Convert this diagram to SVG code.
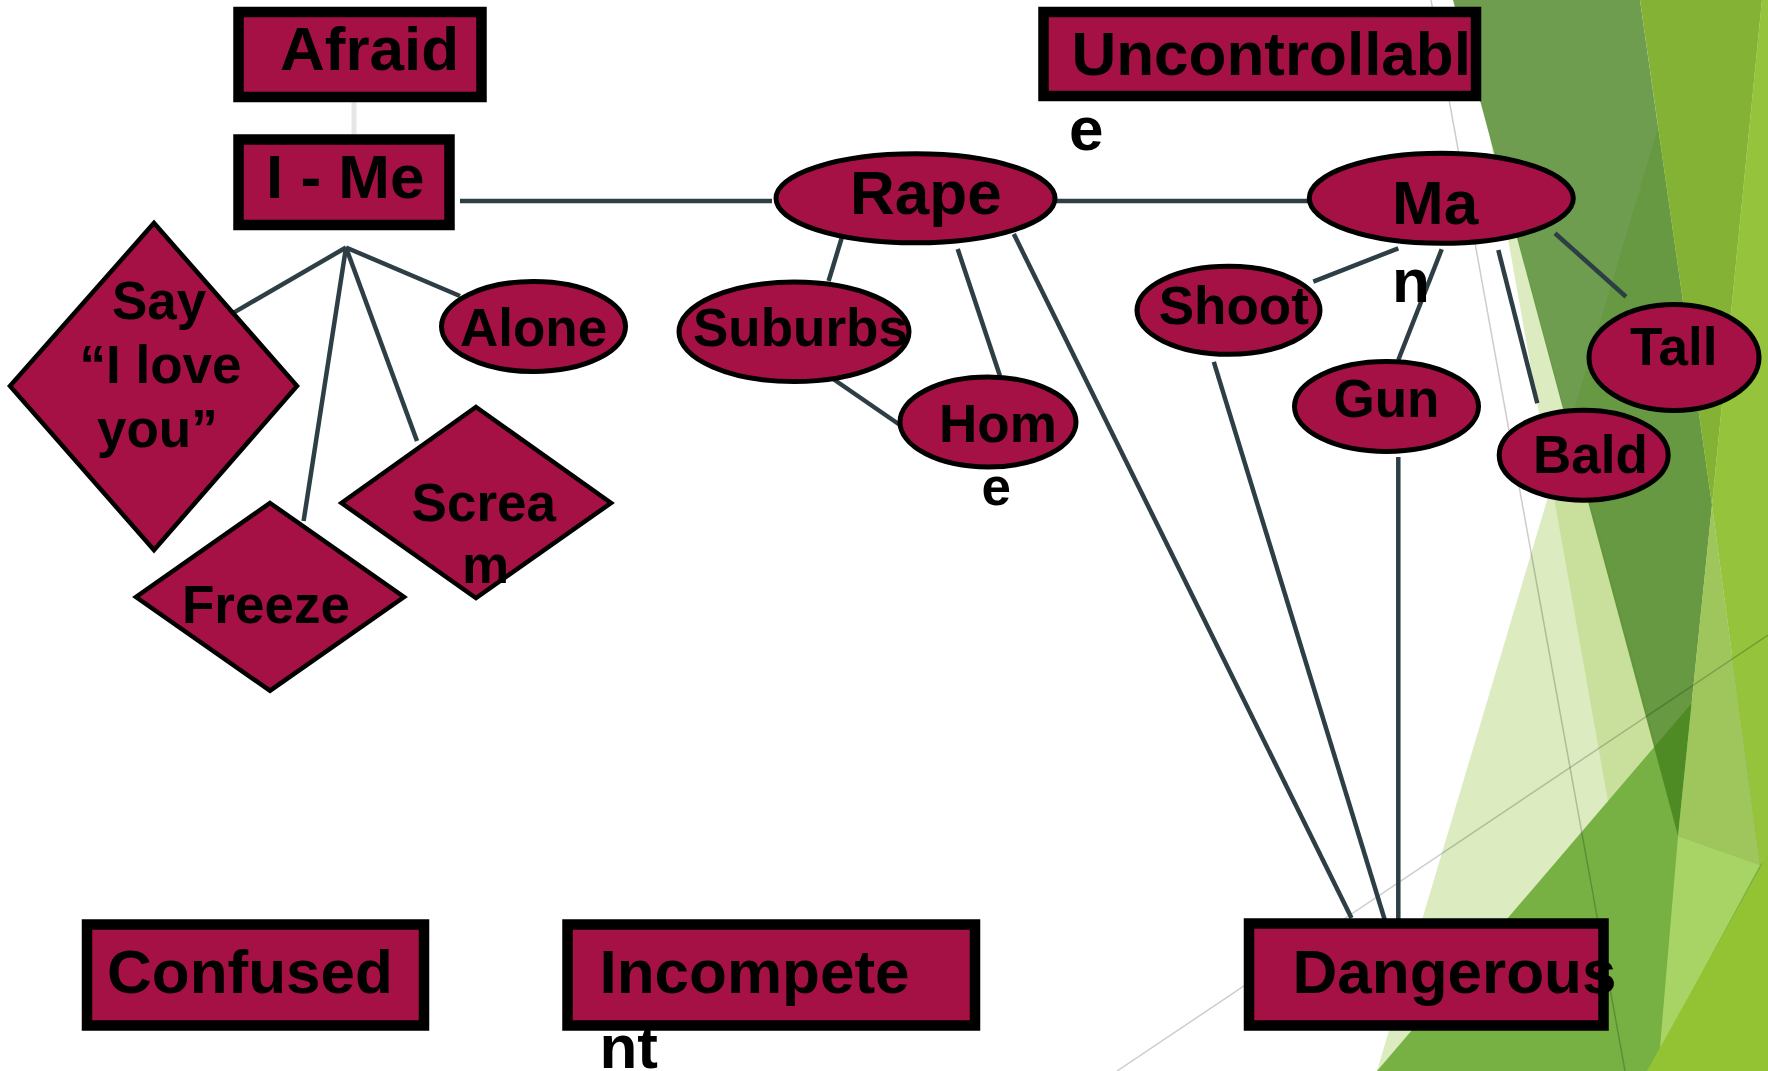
<svg xmlns="http://www.w3.org/2000/svg" width="1768" height="1071" viewBox="0 0 1768 1071">
<style>
.box{fill:#a61145;stroke:#000;stroke-width:10.5}
.ell{fill:#a61145;stroke:#000;stroke-width:5}
.dia{fill:#a61145;stroke:#000;stroke-width:4.5}
.t{font-family:"Liberation Sans",Arial,Helvetica,sans-serif;font-weight:bold;fill:#000}
.big{font-size:62px}
.sm{font-size:53px}
.c{stroke:#2d3e45;stroke-width:4.5;fill:none}
.g{stroke:#000;stroke-opacity:0.2;stroke-width:1.5;fill:none}
.pale{fill:#b1d373;fill-opacity:0.45}
</style>
<rect width="1768" height="1071" fill="#fff"/>
<g id="background">
  <polygon class="pale" points="1696,0 1768,0 1768,1071 1377,1071"/>
  <polygon class="pale" points="1489,132 1745,1071 1656,1071"/>
  <polygon fill="#77b144" points="1377,1071 1768,614 1768,1071"/>
  <polygon fill="#447f1b" fill-opacity="0.77" points="1453,0 1640,0 1712,505 1678,836"/>
  <polygon fill="#84b234" points="1640,0 1762,0 1712,505"/>
  <polygon fill="#95c33c" points="1762,0 1768,0 1768,858 1760,865 1712,505"/>
  <polygon fill="#9fc65c" points="1712,505 1760,865 1678,836"/>
  <polygon fill="#a8d466" points="1678,836 1760,865 1649,1071 1658,1071"/>
  <polygon fill="#93c332" points="1768,854 1768,1071 1647,1071"/>
  <line class="g" x1="1431" y1="0" x2="1625" y2="1071"/>
  <line class="g" x1="1117" y1="1071" x2="1768" y2="635"/>
</g>
<g id="connectors">
  <line x1="354" y1="102" x2="354" y2="134" stroke="#e6e6e6" stroke-width="5"/>
  <line class="c" x1="460" y1="201" x2="772" y2="201"/>
  <line class="c" x1="346" y1="247.5" x2="232" y2="313.6"/>
  <line class="c" x1="346" y1="247.5" x2="303.6" y2="521"/>
  <line class="c" x1="346" y1="247.5" x2="417" y2="441"/>
  <line class="c" x1="346" y1="247.5" x2="460" y2="296"/>
  <line class="c" x1="1057" y1="201" x2="1309" y2="201"/>
  <line class="c" x1="842.9" y1="234" x2="828.6" y2="281"/>
  <line class="c" x1="957.7" y1="249" x2="1000" y2="376"/>
  <line class="c" x1="831" y1="377.5" x2="900" y2="425"/>
  <line class="c" x1="1013.8" y1="234" x2="1351.5" y2="918"/>
  <line class="c" x1="1213.8" y1="361.8" x2="1384.8" y2="920"/>
  <line class="c" x1="1398.3" y1="457" x2="1398.3" y2="920"/>
  <line class="c" x1="1398.3" y1="248.3" x2="1313.3" y2="281.7"/>
  <line class="c" x1="1441.7" y1="249.3" x2="1398.3" y2="360"/>
  <line class="c" x1="1498.3" y1="250" x2="1537.3" y2="403.3" stroke-width="5.5"/>
  <line class="c" x1="1555" y1="233.3" x2="1626" y2="296.7"/>
</g>
<g id="node-afraid">
  <rect class="box" x="238.5" y="12" width="243" height="85"/>
  <text class="t big" x="280" y="70">Afraid</text>
</g>
<g id="node-ime">
  <rect class="box" x="238.5" y="139.5" width="211" height="85.5"/>
  <text class="t big" x="266" y="197.5">I - Me</text>
</g>
<g id="node-uncontrollable">
  <rect class="box" x="1043.5" y="12" width="432.5" height="84"/>
  <text class="t big" x="1071.4" y="75">Uncontrollabl</text>
  <text class="t big" x="1069" y="150">e</text>
</g>
<g id="node-confused">
  <rect class="box" x="87" y="924.5" width="337" height="101"/>
  <text class="t big" x="107" y="993">Confused</text>
</g>
<g id="node-incompetent">
  <rect class="box" x="567.5" y="924.5" width="407.5" height="101"/>
  <text class="t big" x="599.5" y="993">Incompete</text>
  <text class="t big" x="599.5" y="1068">nt</text>
</g>
<g id="node-dangerous">
  <rect class="box" x="1249" y="923.5" width="354.5" height="102"/>
  <text class="t big" x="1292.6" y="993">Dangerous</text>
</g>
<g id="node-say">
  <polygon class="dia" points="154,223 297,386 154,550 10,386"/>
  <text class="t sm" x="112" y="319">Say</text>
  <text class="t sm" x="79.5" y="383">“I love</text>
  <text class="t sm" x="97" y="447">you”</text>
</g>
<g id="node-scream">
  <polygon class="dia" points="476,407 611,503 476,598 341.5,503"/>
  <text class="t sm" x="411.6" y="521">Screa</text>
  <text class="t sm" x="462" y="583">m</text>
</g>
<g id="node-freeze">
  <polygon class="dia" points="270,503 404,597 270,690.7 136,597"/>
  <text class="t sm" x="182" y="622.7">Freeze</text>
</g>
<g id="node-alone">
  <ellipse class="ell" cx="533.5" cy="326.5" rx="92" ry="45"/>
  <text class="t sm" x="460" y="345.7">Alone</text>
</g>
<g id="node-rape">
  <ellipse class="ell" cx="915.5" cy="198.3" rx="139.5" ry="44.5"/>
  <text class="t big" x="850" y="214">Rape</text>
</g>
<g id="node-suburbs">
  <ellipse class="ell" cx="794" cy="331.8" rx="115" ry="49.7"/>
  <text class="t sm" x="693" y="345.7">Suburbs</text>
</g>
<g id="node-home">
  <ellipse class="ell" cx="988" cy="422" rx="88" ry="45"/>
  <text class="t sm" x="939" y="442">Hom</text>
  <text class="t sm" x="981.6" y="505">e</text>
</g>
<g id="node-man">
  <ellipse class="ell" cx="1441.3" cy="198.3" rx="132" ry="45"/>
  <text class="t big" x="1392" y="224">Ma</text>
  <text class="t big" x="1392" y="302">n</text>
</g>
<g id="node-shoot">
  <ellipse class="ell" cx="1228.5" cy="310.3" rx="91.5" ry="44"/>
  <text class="t sm" x="1158.7" y="324">Shoot</text>
</g>
<g id="node-gun">
  <ellipse class="ell" cx="1386.5" cy="406.5" rx="92" ry="45"/>
  <text class="t sm" x="1333.5" y="416.5">Gun</text>
</g>
<g id="node-tall">
  <ellipse class="ell" cx="1674" cy="357.5" rx="85" ry="53"/>
  <text class="t sm" x="1630" y="365.4">Tall</text>
</g>
<g id="node-bald">
  <ellipse class="ell" cx="1583.7" cy="455.2" rx="84.5" ry="45"/>
  <text class="t sm" x="1533" y="473">Bald</text>
</g>
</svg>
